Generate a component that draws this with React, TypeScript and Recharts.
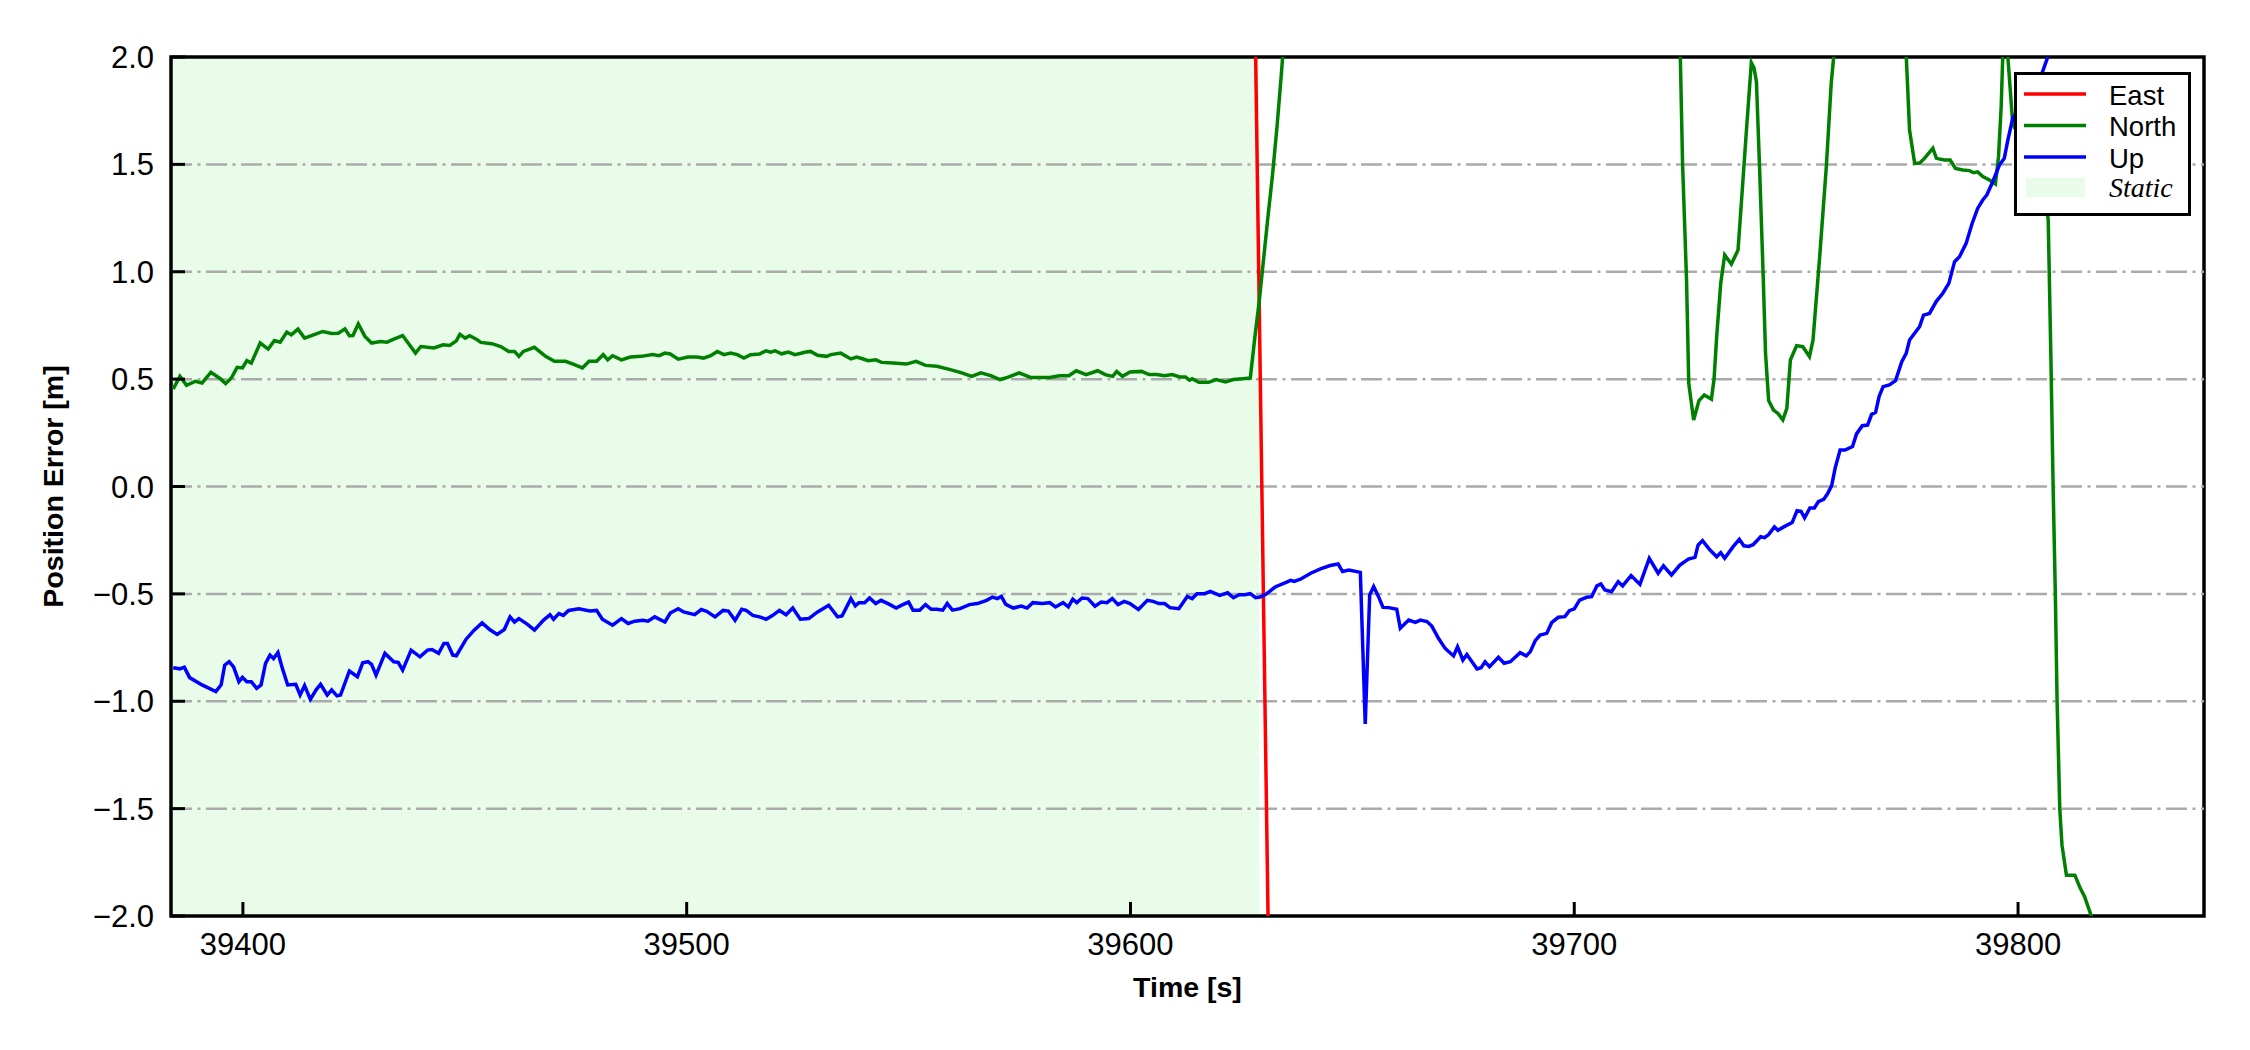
import { LineChart, Line, XAxis, YAxis, ReferenceArea, ReferenceLine } from 'recharts';

// time [s], error [m]
const eastPoints: [number, number][] = [
  [39383.8, 3.6], [39600, 3.3], [39628, 2.3], [39629, 0.86], [39630, -0.57], [39631, -2.0], [39632, -3.4], [39841.9, -6.0],
];

const northPoints: [number, number][] = [
  [39384.3, 0.454], [39385.8, 0.513], [39387.3, 0.471], [39389.3, 0.49], [39390.8, 0.482], [39392.8, 0.532],
  [39394.9, 0.502], [39396.1, 0.479], [39397.4, 0.505], [39398.7, 0.555], [39399.9, 0.552], [39400.9, 0.586],
  [39401.9, 0.575], [39403.9, 0.668], [39405.7, 0.64], [39407.1, 0.68], [39408.4, 0.672], [39409.9, 0.719],
  [39410.9, 0.706], [39412.4, 0.733], [39413.9, 0.691], [39415.9, 0.706], [39418.0, 0.722], [39420.0, 0.713],
  [39421.5, 0.714], [39423.0, 0.734], [39424.0, 0.702], [39424.8, 0.703], [39426.0, 0.757], [39427.5, 0.699],
  [39429.0, 0.668], [39431.0, 0.675], [39432.5, 0.672], [39434.0, 0.686], [39436.0, 0.703], [39438.9, 0.621],
  [39440.1, 0.652], [39443.1, 0.645], [39445.1, 0.66], [39446.6, 0.657], [39448.1, 0.678], [39448.9, 0.709],
  [39450.1, 0.691], [39451.1, 0.702], [39452.6, 0.686], [39453.6, 0.671], [39456.1, 0.665], [39458.1, 0.652],
  [39459.9, 0.629], [39461.2, 0.629], [39462.2, 0.606], [39463.2, 0.629], [39465.7, 0.648], [39468.2, 0.606],
  [39470.2, 0.583], [39472.7, 0.583], [39474.7, 0.567], [39476.5, 0.552], [39478.0, 0.583], [39479.7, 0.583],
  [39481.2, 0.614], [39482.2, 0.59], [39483.3, 0.609], [39485.3, 0.59], [39487.3, 0.603], [39489.8, 0.606],
  [39492.3, 0.614], [39493.8, 0.609], [39495.1, 0.621], [39496.3, 0.617], [39498.1, 0.593], [39500.3, 0.603],
  [39502.3, 0.603], [39503.8, 0.598], [39505.4, 0.609], [39506.9, 0.629], [39508.4, 0.614], [39509.9, 0.621],
  [39511.4, 0.614], [39512.9, 0.598], [39514.4, 0.614], [39516.4, 0.617], [39517.9, 0.632], [39518.9, 0.626],
  [39519.9, 0.632], [39521.4, 0.618], [39522.9, 0.626], [39524.4, 0.614], [39526.9, 0.626], [39527.9, 0.629],
  [39529.5, 0.611], [39531.5, 0.606], [39532.5, 0.614], [39534.7, 0.621], [39537.0, 0.594], [39538.3, 0.603],
  [39539.6, 0.595], [39540.9, 0.586], [39542.6, 0.59], [39543.9, 0.578], [39546.5, 0.575], [39549.5, 0.57],
  [39551.7, 0.583], [39553.8, 0.564], [39556.4, 0.56], [39559.4, 0.544], [39562.0, 0.529], [39564.2, 0.513],
  [39566.3, 0.529], [39568.5, 0.516], [39570.6, 0.498], [39572.3, 0.508], [39574.9, 0.529], [39577.5, 0.508],
  [39581.8, 0.508], [39584.0, 0.516], [39586.1, 0.516], [39587.8, 0.539], [39590.0, 0.521], [39592.6, 0.539],
  [39594.3, 0.521], [39596.0, 0.513], [39596.9, 0.536], [39598.2, 0.513], [39599.9, 0.533], [39602.5, 0.536],
  [39604.2, 0.521], [39605.9, 0.521], [39607.7, 0.516], [39609.4, 0.521], [39611.1, 0.51], [39612.4, 0.51],
  [39613.3, 0.495], [39613.9, 0.502], [39615.4, 0.485], [39617.6, 0.485], [39619.3, 0.498], [39621.4, 0.487],
  [39623.2, 0.498], [39625.3, 0.502], [39627.0, 0.505], [39628.0, 0.69], [39629.0, 0.86], [39630.0, 1.06],
  [39631.0, 1.26], [39632.0, 1.45], [39633.0, 1.67], [39634.0, 1.92], [39635.0, 2.2], [39637.0, 2.8],
  [39680.0, 4.2], [39720.0, 3.6], [39723.5, 2.4], [39724.4, 1.505], [39725.3, 0.962], [39725.8, 0.48],
  [39726.9, 0.31], [39728.1, 0.4], [39729.3, 0.426], [39730.9, 0.407], [39731.5, 0.5], [39732.1, 0.7],
  [39733.0, 0.946], [39733.9, 1.078], [39735.4, 1.036], [39736.9, 1.101], [39737.7, 1.334], [39738.8, 1.66],
  [39739.9, 1.974], [39740.5, 1.95], [39741.05, 1.885], [39741.8, 1.458], [39742.55, 0.993], [39743.1, 0.62],
  [39743.8, 0.4], [39744.9, 0.356], [39745.9, 0.34], [39747.0, 0.31], [39747.9, 0.364], [39748.7, 0.589],
  [39750.1, 0.656], [39751.5, 0.651], [39753.0, 0.605], [39753.8, 0.682], [39755.3, 1.07], [39756.8, 1.489],
  [39757.9, 1.877], [39758.45, 2.0], [39760.0, 2.6], [39768.0, 4.0], [39773.0, 3.0], [39774.6, 2.1],
  [39775.55, 1.66], [39776.7, 1.505], [39777.8, 1.505], [39778.9, 1.528], [39780.8, 1.575], [39781.6, 1.528],
  [39783.4, 1.52], [39784.7, 1.52], [39785.9, 1.481], [39787.55, 1.474], [39789.05, 1.471], [39790.0, 1.461],
  [39790.9, 1.465], [39792.05, 1.443], [39793.55, 1.427], [39794.9, 1.409], [39795.6, 1.536], [39796.2, 1.769],
  [39796.55, 2.0], [39797.1, 2.3], [39797.7, 2.0], [39798.8, 1.69], [39802.0, 1.55], [39806.0, 1.4],
  [39806.8, 1.24], [39807.4, 0.6], [39807.9, 0.0], [39808.4, -0.5], [39808.8, -1.0], [39809.4, -1.5],
  [39809.9, -1.67], [39810.9, -1.81], [39812.8, -1.81], [39814.0, -1.87], [39815.0, -1.91], [39816.5, -2.0],
  [39818.0, -2.25], [39841.9, -3.0],
];

const upPoints: [number, number][] = [
  [39384.3, -0.844], [39385.8, -0.849], [39386.8, -0.841], [39388.0, -0.89], [39390.8, -0.924], [39393.9, -0.955],
  [39395.1, -0.923], [39395.9, -0.832], [39396.9, -0.816], [39397.9, -0.84], [39399.1, -0.909], [39399.9, -0.889],
  [39400.9, -0.909], [39401.9, -0.909], [39403.1, -0.94], [39404.1, -0.924], [39405.1, -0.824], [39406.1, -0.785],
  [39406.9, -0.801], [39407.9, -0.773], [39408.9, -0.847], [39410.1, -0.924], [39411.9, -0.921], [39412.9, -0.971],
  [39413.9, -0.927], [39415.2, -0.991], [39416.5, -0.947], [39417.5, -0.921], [39419.0, -0.971], [39420.0, -0.947],
  [39421.2, -0.975], [39422.0, -0.971], [39424.0, -0.859], [39425.8, -0.886], [39427.0, -0.821], [39428.2, -0.816],
  [39429.0, -0.828], [39430.0, -0.878], [39432.0, -0.777], [39434.0, -0.816], [39435.0, -0.819], [39436.0, -0.855],
  [39437.9, -0.762], [39439.9, -0.793], [39441.6, -0.762], [39442.6, -0.759], [39444.1, -0.777], [39445.3, -0.731],
  [39446.1, -0.731], [39447.3, -0.785], [39448.1, -0.788], [39450.3, -0.711], [39452.1, -0.669], [39453.9, -0.635],
  [39455.6, -0.666], [39457.3, -0.689], [39458.9, -0.666], [39460.2, -0.607], [39461.2, -0.631], [39462.2, -0.615],
  [39464.2, -0.643], [39465.7, -0.669], [39467.7, -0.623], [39469.2, -0.597], [39470.0, -0.618], [39471.2, -0.592],
  [39472.2, -0.6], [39473.4, -0.577], [39475.7, -0.569], [39478.2, -0.58], [39479.7, -0.577], [39481.0, -0.618],
  [39483.3, -0.646], [39485.3, -0.615], [39486.8, -0.638], [39488.3, -0.627], [39490.1, -0.623], [39491.3, -0.627],
  [39492.8, -0.607], [39495.1, -0.631], [39496.3, -0.589], [39498.1, -0.569], [39499.3, -0.584], [39501.8, -0.597],
  [39503.3, -0.573], [39504.5, -0.581], [39506.4, -0.607], [39508.2, -0.577], [39509.4, -0.58], [39510.9, -0.623],
  [39512.4, -0.572], [39513.4, -0.577], [39514.9, -0.6], [39516.4, -0.607], [39517.9, -0.618], [39519.4, -0.6],
  [39520.9, -0.577], [39522.4, -0.597], [39523.9, -0.566], [39525.6, -0.618], [39527.5, -0.615], [39529.5, -0.584],
  [39532.0, -0.553], [39534.0, -0.607], [39535.0, -0.603], [39537.0, -0.522], [39538.0, -0.556], [39538.8, -0.541],
  [39540.1, -0.541], [39541.2, -0.519], [39542.6, -0.545], [39543.8, -0.53], [39545.7, -0.549], [39547.2, -0.566],
  [39548.7, -0.55], [39550.0, -0.538], [39551.0, -0.576], [39552.5, -0.576], [39553.8, -0.55], [39555.1, -0.572],
  [39556.4, -0.572], [39557.7, -0.576], [39558.7, -0.545], [39559.9, -0.576], [39561.6, -0.569], [39563.7, -0.55],
  [39565.5, -0.545], [39567.6, -0.53], [39568.9, -0.515], [39570.0, -0.522], [39570.9, -0.512], [39571.9, -0.549],
  [39573.6, -0.566], [39575.4, -0.557], [39576.7, -0.566], [39578.0, -0.541], [39580.1, -0.545], [39581.8, -0.541],
  [39583.1, -0.561], [39584.8, -0.541], [39586.0, -0.561], [39587.0, -0.525], [39587.9, -0.541], [39589.1, -0.519],
  [39590.4, -0.522], [39592.0, -0.557], [39593.4, -0.538], [39594.7, -0.541], [39595.9, -0.522], [39597.2, -0.55],
  [39598.6, -0.535], [39599.9, -0.545], [39601.8, -0.573], [39603.8, -0.53], [39605.1, -0.535], [39606.4, -0.545],
  [39607.7, -0.545], [39608.9, -0.564], [39610.9, -0.569], [39612.8, -0.512], [39613.9, -0.522], [39615.0, -0.499],
  [39616.7, -0.499], [39618.0, -0.488], [39620.1, -0.507], [39621.9, -0.495], [39623.2, -0.518], [39624.5, -0.504],
  [39625.7, -0.504], [39627.0, -0.499], [39628.2, -0.518], [39629.2, -0.515], [39630.5, -0.502], [39632.6, -0.468],
  [39635.2, -0.445], [39636.1, -0.437], [39636.9, -0.442], [39638.3, -0.432], [39640.6, -0.404], [39642.8, -0.384],
  [39645.0, -0.368], [39646.8, -0.361], [39647.8, -0.396], [39649.2, -0.389], [39651.8, -0.4], [39652.9, -1.106],
  [39653.9, -0.505], [39654.8, -0.466], [39655.9, -0.513], [39656.9, -0.563], [39658.2, -0.564], [39660.0, -0.572],
  [39660.8, -0.66], [39662.7, -0.622], [39664.2, -0.633], [39665.3, -0.622], [39666.8, -0.629], [39667.9, -0.65],
  [39669.4, -0.707], [39670.9, -0.754], [39672.8, -0.789], [39673.7, -0.746], [39674.9, -0.808], [39675.8, -0.782],
  [39678.1, -0.85], [39679.0, -0.844], [39679.9, -0.816], [39680.9, -0.839], [39682.9, -0.795], [39684.2, -0.823],
  [39685.6, -0.816], [39687.8, -0.774], [39689.2, -0.789], [39690.1, -0.769], [39691.2, -0.718], [39692.3, -0.692],
  [39693.8, -0.684], [39694.9, -0.634], [39696.4, -0.609], [39697.9, -0.606], [39698.9, -0.578], [39700.0, -0.57],
  [39701.2, -0.529], [39702.8, -0.516], [39703.9, -0.513], [39705.1, -0.463], [39706.0, -0.454], [39706.9, -0.482],
  [39708.4, -0.49], [39709.9, -0.443], [39710.9, -0.463], [39712.8, -0.415], [39714.8, -0.456], [39716.9, -0.335],
  [39718.9, -0.404], [39720.1, -0.369], [39721.9, -0.412], [39723.8, -0.366], [39725.7, -0.338], [39727.2, -0.33],
  [39727.9, -0.273], [39728.9, -0.252], [39730.6, -0.296], [39732.1, -0.327], [39733.0, -0.308], [39733.9, -0.334],
  [39735.8, -0.28], [39737.2, -0.246], [39738.2, -0.276], [39739.3, -0.279], [39740.3, -0.271], [39742.0, -0.234],
  [39742.9, -0.238], [39743.8, -0.224], [39745.1, -0.188], [39745.9, -0.204], [39747.2, -0.188], [39749.1, -0.168],
  [39750.2, -0.113], [39751.1, -0.116], [39751.9, -0.146], [39753.1, -0.1], [39754.1, -0.1], [39755.0, -0.071],
  [39756.2, -0.06], [39757.1, -0.033], [39758.0, 0.004], [39758.8, 0.087], [39759.9, 0.17], [39761.0, 0.17],
  [39762.7, 0.186], [39763.6, 0.245], [39764.9, 0.283], [39766.1, 0.286], [39767.0, 0.336], [39767.9, 0.345],
  [39768.7, 0.42], [39769.6, 0.465], [39771.0, 0.473], [39772.4, 0.493], [39773.8, 0.581], [39774.8, 0.62],
  [39775.55, 0.682], [39777.8, 0.744], [39778.7, 0.798], [39780.05, 0.806], [39781.55, 0.861], [39783.05, 0.9],
  [39784.4, 0.946], [39785.7, 1.047], [39786.8, 1.07], [39788.3, 1.132], [39789.65, 1.225], [39790.9, 1.295],
  [39792.05, 1.334], [39792.95, 1.357], [39794.3, 1.419], [39795.8, 1.497], [39796.9, 1.528], [39797.7, 1.613],
  [39798.8, 1.714], [39802.0, 1.83], [39805.5, 1.93], [39806.7, 2.0], [39812.0, 2.35], [39841.9, 3.6],
];

const xTicks = [39400, 39500, 39600, 39700, 39800];
const yTicks = [-2, -1.5, -1, -0.5, 0, 0.5, 1, 1.5, 2];
const gridValues = [-1.5, -1, -0.5, 0, 0.5, 1, 1.5];
const xDomain: [number, number] = [39383.8, 39841.9];
const staticEnd = 39629;

const toRows = (pts: [number, number][]) => pts.map(([t, v]) => ({ t, v }));

const FONT = '"Liberation Sans", Arial, sans-serif';
const LW = 3.5;

const fmtY = (v: number) => (v < 0 ? '\u2212' + Math.abs(v).toFixed(1) : v.toFixed(1));

const YTick = (props: any) => {
  const { x, y, payload } = props;
  return (
    <g>
      <line x1={x} x2={x + 14} y1={y} y2={y} stroke="#000" strokeWidth={3} />
      <text x={x - 17} y={y + 11} textAnchor="end" fontFamily={FONT} fontSize={31} fill="#000">
        {fmtY(payload.value)}
      </text>
    </g>
  );
};

const XTick = (props: any) => {
  const { x, y, payload } = props;
  return (
    <g>
      <line x1={x} x2={x} y1={y} y2={y - 14} stroke="#000" strokeWidth={3} />
      <text x={x} y={y + 39} textAnchor="middle" fontFamily={FONT} fontSize={31} fill="#000">
        {payload.value}
      </text>
    </g>
  );
};

const legendRows = [
  { name: 'East', color: '#ff0000' },
  { name: 'North', color: '#008000' },
  { name: 'Up', color: '#0000ff' },
];

const ChartLegend = () => (
  <div
    style={{
      position: 'absolute',
      left: 2014,
      top: 72,
      width: 177,
      height: 144,
      boxSizing: 'border-box',
      border: '3px solid #000',
      background: '#fff',
    }}
  >
    <svg width={171} height={138} style={{ position: 'absolute', left: 0, top: 0 }}>
      {legendRows.map((r, i) => (
        <g key={r.name}>
          <line x1={7} x2={69} y1={19 + i * 31.5} y2={19 + i * 31.5} stroke={r.color} strokeWidth={LW} />
          <text x={92} y={29.5 + i * 31.5} fontFamily={FONT} fontSize={27.5} fill="#000">
            {r.name}
          </text>
        </g>
      ))}
      <rect x={9} y={103} width={59} height={19} fill="#e9fce9" />
      <text x={92} y={122} fontFamily='"Liberation Serif", "Times New Roman", serif' fontStyle="italic" fontSize={28} fill="#000">
        Static
      </text>
    </svg>
  </div>
);

export default function App() {
  return (
    <div style={{ position: 'absolute', left: 0, top: 0, width: 2250, height: 1050, background: '#fff' }}>
      <LineChart width={2250} height={1050} margin={{ top: 57, right: 46, bottom: 74, left: 71 }}>
        <XAxis
          dataKey="t"
          type="number"
          domain={xDomain}
          ticks={xTicks}
          allowDataOverflow
          axisLine={false}
          tickLine={false}
          tickSize={0}
          tickMargin={0}
          height={60}
          tick={<XTick />}
          interval={0}
          label={{
            content: () => (
              <text x={1187.5} y={997} textAnchor="middle" fontFamily={FONT} fontWeight="bold" fontSize={28.5} fill="#000">
                Time [s]
              </text>
            ),
          }}
        />
        <YAxis
          type="number"
          domain={[-2, 2]}
          ticks={yTicks}
          allowDataOverflow
          axisLine={false}
          tickLine={false}
          tickSize={0}
          tickMargin={0}
          width={100}
          tick={<YTick />}
          interval={0}
          label={{
            content: () => (
              <text
                x={63}
                y={486.5}
                transform="rotate(-90 63 486.5)"
                textAnchor="middle"
                fontFamily={FONT}
                fontWeight="bold"
                fontSize={28.5}
                fill="#000"
              >
                Position Error [m]
              </text>
            ),
          }}
        />
        <ReferenceArea x1={xDomain[0]} x2={staticEnd} y1={-2} y2={2} fill="#e9fce9" fillOpacity={1} stroke="none" />
        {gridValues.map((g) => (
          <ReferenceLine key={g} y={g} stroke="#aaaaaa" strokeWidth={2.5} strokeDasharray="21 5.5 3 5.5" />
        ))}
        <Line data={toRows(eastPoints)} dataKey="v" type="linear" stroke="#ff0000" strokeWidth={LW} dot={false} isAnimationActive={false} />
        <Line data={toRows(northPoints)} dataKey="v" type="linear" stroke="#008000" strokeWidth={LW} dot={false} isAnimationActive={false} />
        <Line data={toRows(upPoints)} dataKey="v" type="linear" stroke="#0000ff" strokeWidth={LW} dot={false} isAnimationActive={false} />
        <ReferenceArea x1={xDomain[0]} x2={xDomain[1]} y1={-2} y2={2} fill="none" stroke="#000" strokeWidth={3.5} />
      </LineChart>
      <ChartLegend />
    </div>
  );
}
